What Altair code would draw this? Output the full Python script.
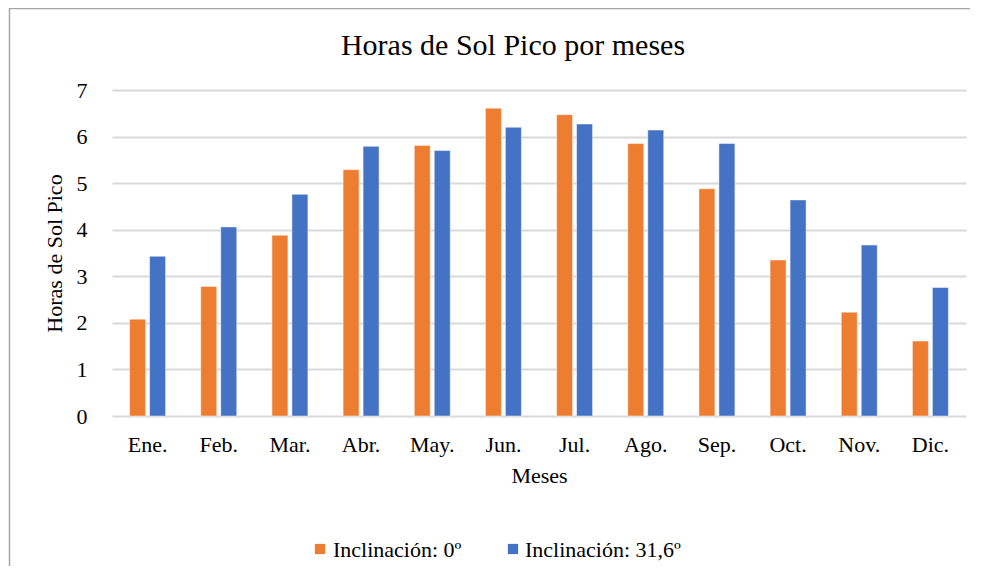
import altair as alt
import pandas as pd

months = ["Ene.", "Feb.", "Mar.", "Abr.", "May.", "Jun.", "Jul.", "Ago.", "Sep.", "Oct.", "Nov.", "Dic."]
series = ["Inclinación: 0º", "Inclinación: 31,6º"]
incl_0 = [2.08, 2.78, 3.88, 5.29, 5.81, 6.61, 6.47, 5.85, 4.88, 3.35, 2.23, 1.61]
incl_31 = [3.43, 4.06, 4.76, 5.79, 5.70, 6.20, 6.27, 6.14, 5.85, 4.64, 3.67, 2.76]
colors = ["#ED7D31", "#4472C4"]
title_text = "Horas de Sol Pico por meses"

rows = []
for m, a, b in zip(months, incl_0, incl_31):
    rows.append({"Mes": m, "Serie": series[0], "Valor": a})
    rows.append({"Mes": m, "Serie": series[1], "Valor": b})
df = pd.DataFrame(rows)
legend_df = pd.DataFrame({"Serie": series})

FONT = "Liberation Serif"
W, H = 854, 326
PL, PT = 104, 82
color_scale = alt.Scale(domain=series, range=colors)

bars = alt.Chart(df).mark_bar(stroke="white", strokeWidth=0.8, strokeOpacity=0.6).encode(
    x=alt.X("Mes:N", sort=months, title="Meses",
            scale=alt.Scale(paddingInner=0, paddingOuter=0),
            axis=alt.Axis(labelAngle=0, ticks=False, domain=False, grid=False,
                          labelPadding=18, titlePadding=10)),
    xOffset=alt.XOffset("Serie:N", sort=series,
                        scale=alt.Scale(paddingInner=0.2, paddingOuter=0.88)),
    y=alt.Y("Valor:Q", title="Horas de Sol Pico",
            scale=alt.Scale(domain=[0, 7], nice=False),
            axis=alt.Axis(values=[0, 1, 2, 3, 4, 5, 6, 7], ticks=False, domain=False,
                          grid=True, gridColor="#d9d9d9", gridWidth=2,
                          labelPadding=25, titlePadding=10)),
    color=alt.Color("Serie:N", sort=series, scale=color_scale, legend=None),
)

# custom legend (serif labels)
legend_layers = []
leg_sq_x = [208, 401]
leg_tx_x = [221, 413]
LEG_Y = 459
for i, s in enumerate(series):
    base = alt.Chart(legend_df).transform_filter(alt.datum.Serie == s)
    legend_layers.append(
        base.mark_square(size=105, opacity=1).encode(
            x=alt.value(leg_sq_x[i]), y=alt.value(LEG_Y),
            color=alt.Color("Serie:N", scale=color_scale, legend=None),
        )
    )
    legend_layers.append(
        base.mark_text(font=FONT, fontSize=22, color="#000000", align="left",
                       baseline="middle").encode(
            x=alt.value(leg_tx_x[i]), y=alt.value(LEG_Y + 1), text="Serie:N",
        )
    )

title = alt.Chart(pd.DataFrame({"t": [title_text]})).mark_text(
    font=FONT, fontSize=30, color="#000000", align="center", baseline="middle"
).encode(
    text="t:N", x=alt.value(W / 2 - 26), y=alt.value(-44),
)

border = alt.Chart(pd.DataFrame({"b": [0]})).mark_rect(
    fill=None, stroke="#a6a6a6", strokeWidth=1.5, clip=False
).encode(
    x=alt.value(-PL + 1.5), x2=alt.value(W + 200),
    y=alt.value(-PT + 0.5), y2=alt.value(H + 300),
)

chart = alt.layer(bars, *legend_layers, title, border).properties(
    width=W, height=H,
    autosize=alt.AutoSizeParams(type="none"),
    padding={"left": PL, "top": PT, "right": 4, "bottom": 150},
).configure(font=FONT).configure_view(stroke=None).configure_axis(
    labelFont=FONT, titleFont=FONT, labelFontSize=22, titleFontSize=22,
    labelColor="#000000", titleColor="#000000", titleFontWeight="normal",
)

chart.save("out.html", embed_options={"renderer": "svg", "actions": False})
